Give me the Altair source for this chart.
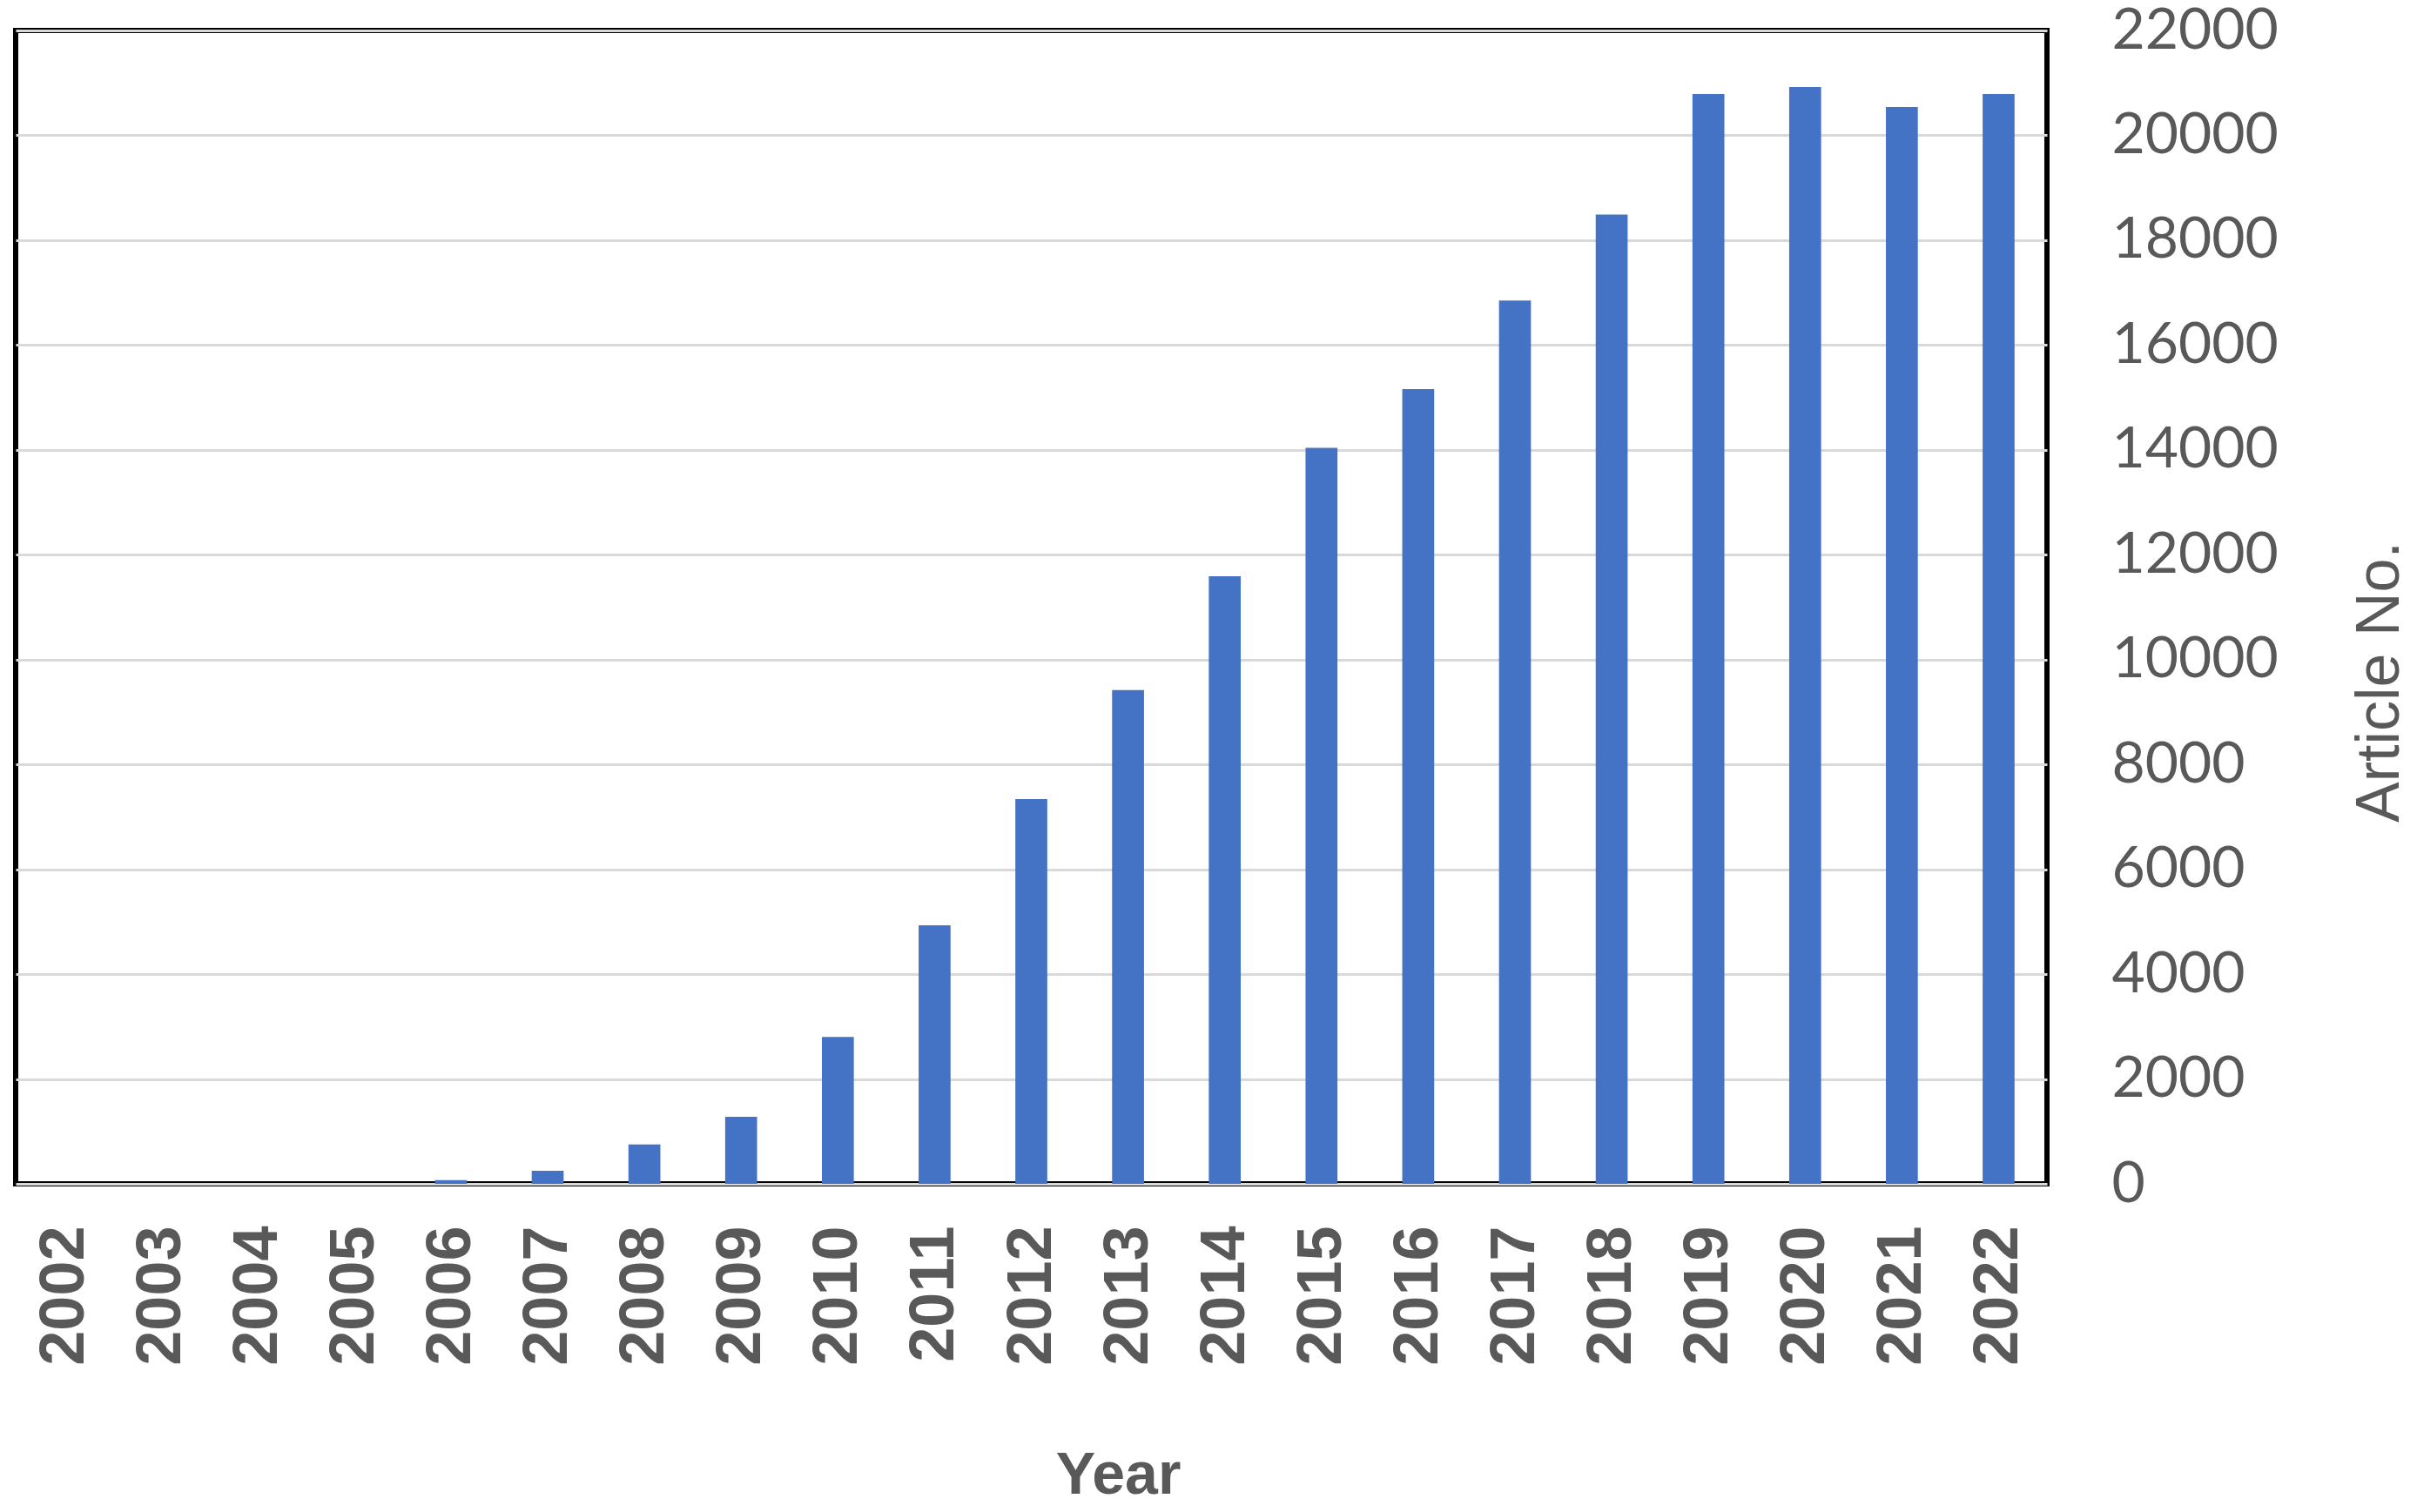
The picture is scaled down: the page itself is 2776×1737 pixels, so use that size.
import altair as alt
import pandas as pd

years = [str(y) for y in range(2002, 2023)]
articles = [0, 0, 0, 0, 70, 250, 750, 1280, 2800, 4930, 7340, 9420,
            11590, 14040, 15160, 16850, 18490, 20790, 20920, 20540, 20790]
y_ticks = list(range(0, 22001, 2000))

df = pd.DataFrame({"Year": years, "Articles": articles})

bars = alt.Chart(df).mark_bar(color="#4472C4").encode(
    x=alt.X(
        "Year:N",
        sort=years,
        scale=alt.Scale(paddingInner=0.67, paddingOuter=0.335),
        axis=alt.Axis(
            title="Year",
            labelAngle=270,
            labelFont="Liberation Sans",
            labelFontWeight="bold",
            labelFontSize=72,
            labelColor="#595959",
            labelPadding=48,
            labelLimit=0,
            ticks=False,
            domain=False,
            grid=False,
            titleFont="Liberation Sans",
            titleFontWeight="bold",
            titleFontSize=68,
            titleColor="#595959",
            titleX=1266,
            titleY=335,
            titleAlign="center",
            titleBaseline="middle",
        ),
    ),
    y=alt.Y(
        "Articles:Q",
        scale=alt.Scale(domain=[0, 22000], nice=False),
        axis=alt.Axis(
            title="Article No.",
            orient="right",
            values=y_ticks,
            format="d",
            labelFont="Lato",
            labelFontSize=66,
            labelColor="#595959",
            labelAlign="left",
            labelPadding=74,
            labelLimit=0,
            ticks=False,
            domain=False,
            grid=True,
            gridColor="#D9D9D9",
            gridWidth=3,
            titleFont="Liberation Sans",
            titleFontWeight="normal",
            titleFontSize=70,
            titleColor="#595959",
            titleAngle=270,
            titleX=382,
            titleY=748,
            titleAlign="center",
            titleBaseline="middle",
        ),
    ),
).properties(
    width=2333,
    height=1325,
    padding={"left": 10, "top": 27, "right": 415, "bottom": 375},
    autosize=alt.AutoSizeParams(type="none"),
).configure_view(
    stroke="black",
    strokeWidth=6,
)

bars.save("out.html", embed_options={"renderer": "svg", "actions": False})
